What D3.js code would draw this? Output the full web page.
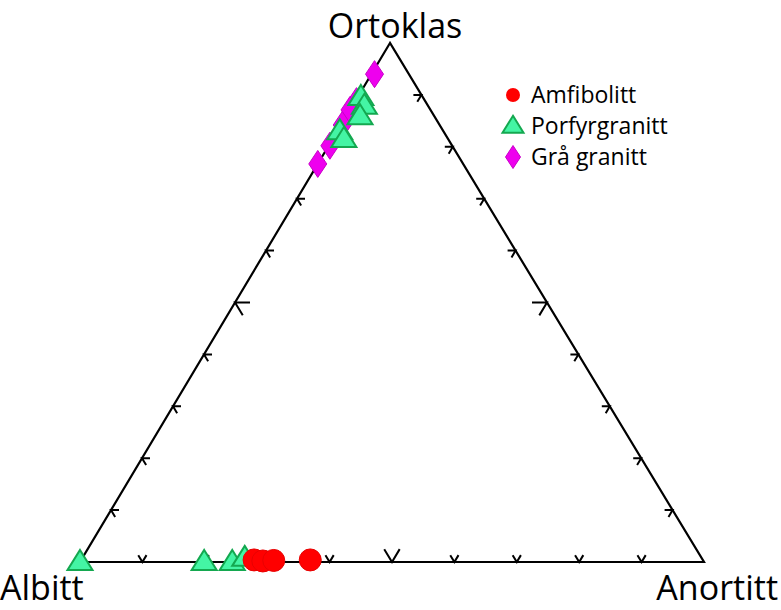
<!DOCTYPE html>
<html>
<head>
<meta charset="utf-8">
<script src="https://cdn.jsdelivr.net/npm/d3@7"></script>
<style>
  body { margin: 0; background: #fff; }
  text { font-family: "Open Sans", sans-serif; fill: #000; }
</style>
</head>
<body>
<div id="chart"></div>
<script>
// data: percentages [Ortoklas, Albitt, Anortitt]
const amfibolitt = [
  [0.4, 71.9, 27.7],
  [0.2, 70.6, 29.2],
  [0.3, 68.8, 30.9],
  [0.4, 62.9, 36.7],
];
const porfyrgranitt = [
  [0, 100, 0],
  [0, 80.1, 19.9],
  [0, 75.6, 24.4],
  [0.8, 73.2, 26.0],
  [89.6, 9.9, 0.5],
  [87.9, 10.2, 1.9],
  [85.9, 11.9, 2.2],
  [83.0, 16.6, 0.4],
  [81.5, 16.7, 1.8],
];
const graGranitt = [
  [94.0, 5.5, 0.5],
  [88.8, 11.0, 0.2],
  [87.1, 12.9, 0.0],
  [84.2, 15.6, 0.2],
  [80.2, 19.6, 0.2],
  [76.7, 23.3, 0.0],
];
const seriesNames = ["Amfibolitt", "Porfyrgranitt", "Grå granitt"];
const cornerLabels = ["Ortoklas", "Albitt", "Anortitt"];
const tickValues = [10, 20, 30, 40, 50, 60, 70, 80, 90];

const width = 781, height = 610;
const m = { left: 80, right: 704, top: 43, bottom: 562 };
const apexX = 390;
const share = (apexX - m.left) / (m.right - m.left); // horizontal shift per unit of Or

const x = d3.scaleLinear().domain([0, 100]).range([m.left, m.right]);
const y = d3.scaleLinear().domain([0, 100]).range([m.bottom, m.top]);

// ternary -> screen
const px = (d) => x(d[2] + d[0] * share);
const py = (d) => y(d[0]);

const svg = d3
  .select("#chart")
  .append("svg")
  .attr("width", width)
  .attr("height", height)
  .attr("viewBox", [0, 0, width, height]);

// triangle frame
const A = [100, 0, 0], B = [0, 100, 0], C = [0, 0, 100];
svg
  .append("path")
  .attr("d", `M${px(A)},${py(A)}L${px(B)},${py(B)}L${px(C)},${py(C)}Z`)
  .attr("fill", "none")
  .attr("stroke", "#000")
  .attr("stroke-width", 2.2)
  .attr("stroke-linejoin", "miter");

// edge directions
const norm = (v) => {
  const l = Math.hypot(v[0], v[1]);
  return [v[0] / l, v[1] / l];
};
const L = norm([px(A) - px(B), py(A) - py(B)]); // Albitt -> Ortoklas
const R = norm([px(C) - px(A), py(C) - py(A)]); // Ortoklas -> Anortitt

const ticks = [];
for (let t of tickValues) {
  ticks.push({ p: [0, 100 - t, t], a: [-R[0], -R[1]], b: L, big: t === 50 });
  ticks.push({ p: [t, 100 - t, 0], a: [1, 0], b: R, big: t === 50 });
  ticks.push({ p: [t, 0, 100 - t], a: [-1, 0], b: [-L[0], -L[1]], big: t === 50 });
}

svg
  .append("g")
  .selectAll("path")
  .data(ticks)
  .join("path")
  .attr("d", (d) => {
    const len = d.big ? 15 : 8;
    const x0 = px(d.p), y0 = py(d.p);
    return `M${x0 + d.a[0] * len},${y0 + d.a[1] * len}L${x0},${y0}L${x0 + d.b[0] * len},${y0 + d.b[1] * len}`;
  })
  .attr("fill", "none")
  .attr("stroke", "#000")
  .attr("stroke-width", 2);

// markers
const triPath = (w, h) => `M0,${-h * 0.6}L${w / 2},${h * 0.4}L${-w / 2},${h * 0.4}Z`;
const diaPath = (w, h) => `M0,${-h / 2}L${w / 2},0L0,${h / 2}L${-w / 2},0Z`;

svg
  .append("g")
  .selectAll("path")
  .data(graGranitt)
  .join("path")
  .attr("transform", (d) => `translate(${px(d)},${py(d)})`)
  .attr("d", diaPath(18, 27))
  .attr("fill", "#ee00ee")
  .attr("stroke", "#c800c8")
  .attr("stroke-width", 1);

svg
  .append("g")
  .selectAll("path")
  .data(porfyrgranitt)
  .join("path")
  .attr("transform", (d) => `translate(${px(d)},${py(d)})`)
  .attr("d", triPath(25, 20))
  .attr("fill", "#44f5a4")
  .attr("stroke", "#14a850")
  .attr("stroke-width", 2);

svg
  .append("g")
  .selectAll("circle")
  .data(amfibolitt)
  .join("circle")
  .attr("cx", (d) => px(d))
  .attr("cy", (d) => py(d))
  .attr("r", 11)
  .attr("fill", "#ff0000")
  .attr("stroke", "#e80000")
  .attr("stroke-width", 1);

// corner labels
svg.append("text").text(cornerLabels[0])
  .attr("x", 395).attr("y", 38)
  .attr("text-anchor", "middle")
  .style("font-size", "34px");
svg.append("text").text(cornerLabels[1])
  .attr("x", 0).attr("y", 600)
  .style("font-size", "34px");
svg.append("text").text(cornerLabels[2])
  .attr("x", 778).attr("y", 600)
  .attr("text-anchor", "end")
  .style("font-size", "34px");

// legend
const legend = svg
  .append("g")
  .attr("transform", "translate(513,95)")
  .selectAll("g")
  .data(seriesNames)
  .join("g")
  .attr("transform", (d, i) => `translate(0,${i * 31})`);

legend.each(function (d, i) {
  const g = d3.select(this);
  if (i === 0) {
    g.append("circle").attr("r", 7).attr("fill", "#ff0000");
  } else if (i === 1) {
    g.append("path").attr("d", triPath(21, 17))
      .attr("fill", "#44f5a4").attr("stroke", "#14a850").attr("stroke-width", 2);
  } else {
    g.append("path").attr("d", diaPath(15, 23))
      .attr("fill", "#ee00ee").attr("stroke", "#c800c8").attr("stroke-width", 1);
  }
  g.append("text")
    .text(d)
    .attr("x", 18)
    .attr("dy", "0.35em")
    .style("font-size", "23px");
});
</script>
</body>
</html>
